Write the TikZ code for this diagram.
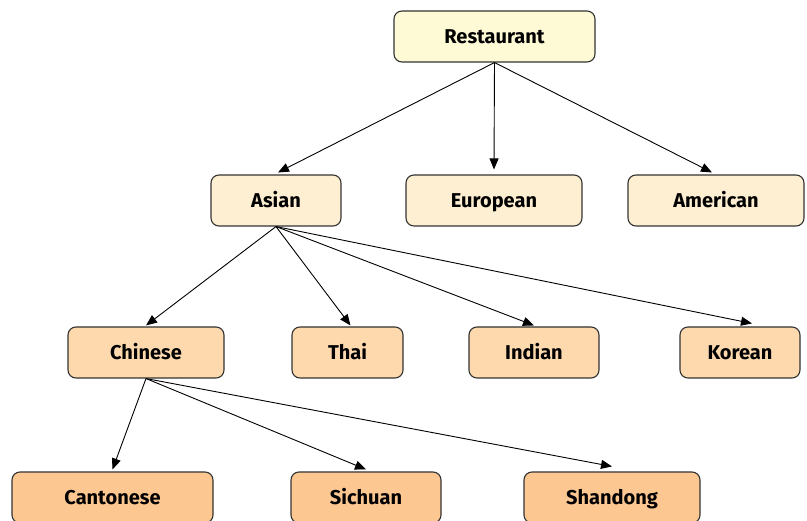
\documentclass[tikz,border=0pt]{standalone}
\usepackage{fontspec}
\setmainfont{Fira Sans}
\usetikzlibrary{arrows.meta,calc}
\definecolor{lvA}{HTML}{FFFAD6}
\definecolor{lvB}{HTML}{FFEFD2}
\definecolor{lvC}{HTML}{FED9AE}
\definecolor{lvD}{HTML}{FCC791}
\definecolor{edge}{HTML}{333333}
\begin{document}
\begin{tikzpicture}[x=1pt,y=-1pt,
  box/.style={draw=edge, line width=1.1pt, rounded corners=8pt, inner sep=0pt,
    minimum height=51pt, text height=13.5pt, text depth=0pt,
    font=\bfseries\fontsize{20}{23}\selectfont},
  arr/.style={-{Triangle[length=11pt,width=9pt]}, line width=0.9pt}]
\useasboundingbox (0,0) rectangle (807,521);
\node[box, fill=lvA, minimum width=201pt] (rest) at (494.5,36.5) {Restaurant};
\node[box, fill=lvB, minimum width=130pt] (asian) at (276,200.5) {Asian};
\node[box, fill=lvB, minimum width=176pt] (euro) at (494,200.5) {European};
\node[box, fill=lvB, minimum width=176pt] (amer) at (716,200.5) {American};
\node[box, fill=lvC, minimum width=156pt] (chin) at (146,352.5) {Chinese};
\node[box, fill=lvC, minimum width=111pt] (thai) at (347.5,352.5) {Thai};
\node[box, fill=lvC, minimum width=130pt] (ind) at (534,352.5) {Indian};
\node[box, fill=lvC, minimum width=120pt] (kor) at (740,352.5) {Korean};
\node[box, fill=lvD, minimum width=201pt] (cant) at (112.5,497.5) {Cantonese};
\node[box, fill=lvD, minimum width=150pt] (sich) at (366,497.5) {Sichuan};
\node[box, fill=lvD, minimum width=176pt] (shan) at (612,497.5) {Shandong};
\draw[arr] (rest.south) -- ($(asian.north)+(2,-2)$);
\draw[arr] (rest.south) -- ($(euro.north)+(0,-5)$);
\draw[arr] (rest.south) -- ($(amer.north)+(-4,-2)$);
\draw[arr] (asian.south) -- ($(chin.north)+(0,-1)$);
\draw[arr] (asian.south) -- ($(thai.north)+(3,-1)$);
\draw[arr] (asian.south) -- ($(ind.north)+(0,-1)$);
\draw[arr] (asian.south) -- ($(kor.north)+(12,-3)$);
\draw[arr] (chin.south) -- ($(cant.north)+(0,-2)$);
\draw[arr] (chin.south) -- ($(sich.north)+(0,-2)$);
\draw[arr] (chin.south) -- ($(shan.north)+(0,-5)$);
\end{tikzpicture}
\end{document}
